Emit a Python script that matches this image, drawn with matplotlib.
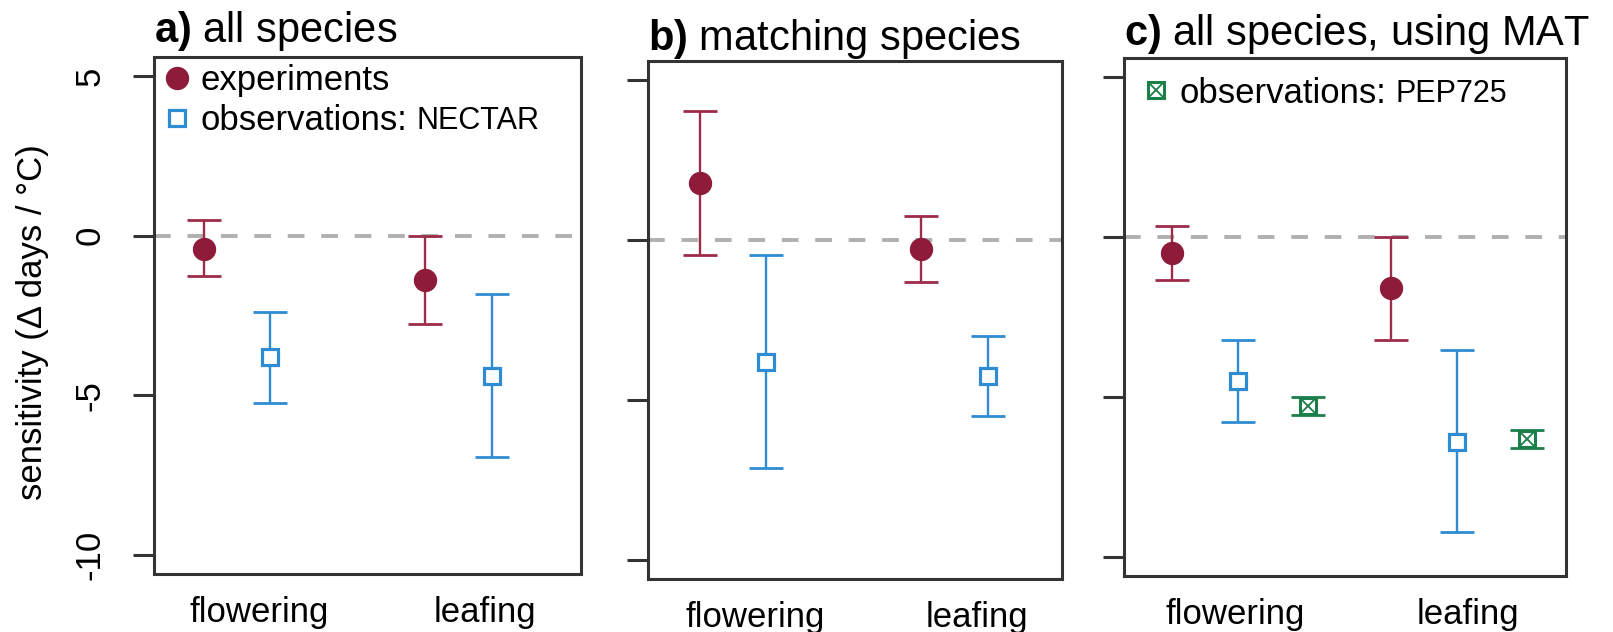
import matplotlib
matplotlib.use("Agg")
import matplotlib.pyplot as plt
from matplotlib.lines import Line2D
from matplotlib.legend_handler import HandlerTuple

plt.rcParams['font.family'] = ['Liberation Sans', 'DejaVu Sans']
plt.rcParams['mathtext.fontset'] = 'custom'
plt.rcParams['mathtext.rm'] = 'Liberation Sans'
plt.rcParams['mathtext.bf'] = 'Liberation Sans:bold'

# ---- data ----
groups = ["flowering", "leafing"]
yticks = [-10, -5, 0, 5]
ytick_labels = ["-10", "-5", "0", "5"]

# a) all species
exp_a = [-0.42, -1.38]
exp_a_lo = [-1.27, -2.77]
exp_a_hi = [0.48, 0.00]
obs_a = [-3.79, -4.40]
obs_a_lo = [-5.23, -6.92]
obs_a_hi = [-2.40, -1.84]

# b) matching species
exp_b = [1.80, -0.28]
exp_b_lo = [-0.47, -1.30]
exp_b_hi = [4.03, 0.74]
obs_b = [-3.81, -4.25]
obs_b_lo = [-7.13, -5.51]
obs_b_hi = [-0.46, -3.00]

# c) all species, using MAT
exp_c = [-0.51, -1.59]
exp_c_lo = [-1.35, -3.22]
exp_c_hi = [0.36, 0.00]
obs_c = [-4.49, -6.40]
obs_c_lo = [-5.77, -9.23]
obs_c_hi = [-3.22, -3.53]
pep_c = [-5.29, -6.31]
pep_c_lo = [-5.58, -6.60]
pep_c_hi = [-5.00, -6.02]

RED = "#8E1B39"
RED_BAR = "#9C2C47"
BLUE = "#2F8CD2"
GREEN = "#1B7F4A"
DARK = "#333333"

FS = 25


def draw_series(ax, off, mid, lo, hi, color, kind):
    xs = [i + off for i in range(len(mid))]
    yerr = [[m - l for m, l in zip(mid, lo)], [h - m for m, h in zip(mid, hi)]]
    ecol = RED_BAR if kind == "exp" else color
    ax.errorbar(xs, mid, yerr=yerr, fmt="none", ecolor=ecol, elinewidth=1.7,
                capsize=12, capthick=2.0, zorder=3)
    if kind == "exp":
        ax.plot(xs, mid, ls="none", marker="o", ms=15.8, color=color, zorder=4)
    elif kind == "obs":
        ax.plot(xs, mid, ls="none", marker="s", ms=11.5, mfc="white",
                mec=color, mew=2.3, zorder=4)
    else:
        ax.plot(xs, mid, ls="none", marker="s", ms=11.5, mfc="white",
                mec=color, mew=2.2, zorder=4)
        ax.plot(xs, mid, ls="none", marker="x", ms=11.5, mec=color,
                mew=1.3, zorder=5)


def style_axes(ax, xlim, label_x, title, tpad, show_ylabels):
    ax.set_xlim(*xlim)
    ax.set_ylim(-10.6, 5.6)
    ax.axhline(0, color="#B0B0B0", lw=2.8, dashes=(4.3, 4.3), zorder=1)
    for s in ax.spines.values():
        s.set_linewidth(2.2)
        s.set_color(DARK)
    ax.set_yticks(yticks)
    if show_ylabels:
        ax.set_yticklabels(ytick_labels, rotation=90, va="center", fontsize=FS)
    else:
        ax.set_yticklabels([])
    ax.tick_params(axis="y", direction="out", length=15, width=2.2,
                   color=DARK, pad=19)
    ax.set_xticks(label_x)
    ax.set_xticklabels(groups, fontsize=FS)
    ax.tick_params(axis="x", length=0, pad=16)
    ax.set_title(title, loc="left", fontsize=30, pad=tpad)


def make_legend(ax, handles, labels, anchor):
    return ax.legend(handles, labels, loc="upper left", bbox_to_anchor=anchor,
                     frameon=False, fontsize=FS, handlelength=1.0,
                     handletextpad=0.18, borderpad=0, borderaxespad=0,
                     labelspacing=0.2,
                     handler_map={tuple: HandlerTuple(ndivide=1, pad=0)})


fig = plt.figure(figsize=(16.13, 6.32), dpi=100)
W, H = 1613, 632


def add_ax(l, r, t, b):
    return fig.add_axes([l / W, 1 - b / H, (r - l) / W, (b - t) / H])


ax_a = add_ax(154, 581, 57, 574)
ax_b = add_ax(648, 1062, 61, 579)
ax_c = add_ax(1124, 1566, 58, 576)

# panel a
draw_series(ax_a, -0.15, exp_a, exp_a_lo, exp_a_hi, RED, "exp")
draw_series(ax_a, 0.15, obs_a, obs_a_lo, obs_a_hi, BLUE, "obs")
style_axes(ax_a, (-0.374, 1.553), [0.10, 1.12], r"$\mathbf{a)}$ all species", 11, True)

# panel b
draw_series(ax_b, -0.15, exp_b, exp_b_lo, exp_b_hi, RED, "exp")
draw_series(ax_b, 0.15, obs_b, obs_b_lo, obs_b_hi, BLUE, "obs")
style_axes(ax_b, (-0.386, 1.487), [0.10, 1.10], r"$\mathbf{b)}$ matching species", 8, False)

# panel c
draw_series(ax_c, -0.15, exp_c, exp_c_lo, exp_c_hi, RED, "exp")
draw_series(ax_c, 0.15, obs_c, obs_c_lo, obs_c_hi, BLUE, "obs")
draw_series(ax_c, 0.47, pep_c, pep_c_lo, pep_c_hi, GREEN, "pep")
style_axes(ax_c, (-0.368, 1.648), [0.14, 1.20], r"$\mathbf{c)}$ all species, using MAT", 9.5, False)

# legends
h_exp = Line2D([], [], ls="none", marker="o", ms=15.8, color=RED)
h_obs = Line2D([], [], ls="none", marker="s", ms=11.5, mfc="none", mec=BLUE, mew=2.3)
leg_a = make_legend(ax_a, [h_exp, h_obs], ["experiments", "observations:"], (0.013, 0.987))

h_sq = Line2D([], [], ls="none", marker="s", ms=11.5, mfc="none", mec=GREEN, mew=2.2)
h_x = Line2D([], [], ls="none", marker="x", ms=11.5, mec=GREEN, mew=1.3)
leg_c = make_legend(ax_c, [(h_sq, h_x)], ["observations:"], (0.033, 0.964))

fig.text(33 / W, 0.49, "sensitivity (\u0394 days / \u00b0C)", rotation=90,
         ha="center", va="center", fontsize=25)

# data-source names are set in a smaller font right after the legend label
fig.canvas.draw()
renderer = fig.canvas.get_renderer()
for leg, tag in [(leg_a, "NECTAR"), (leg_c, "PEP725")]:
    bb = leg.get_texts()[-1].get_window_extent(renderer)
    fig.text((bb.x1 + 9) / W, (bb.y0 + 1) / H, tag, fontsize=22,
             ha="left", va="bottom", color="black")

fig.savefig("out.png", dpi=100)
